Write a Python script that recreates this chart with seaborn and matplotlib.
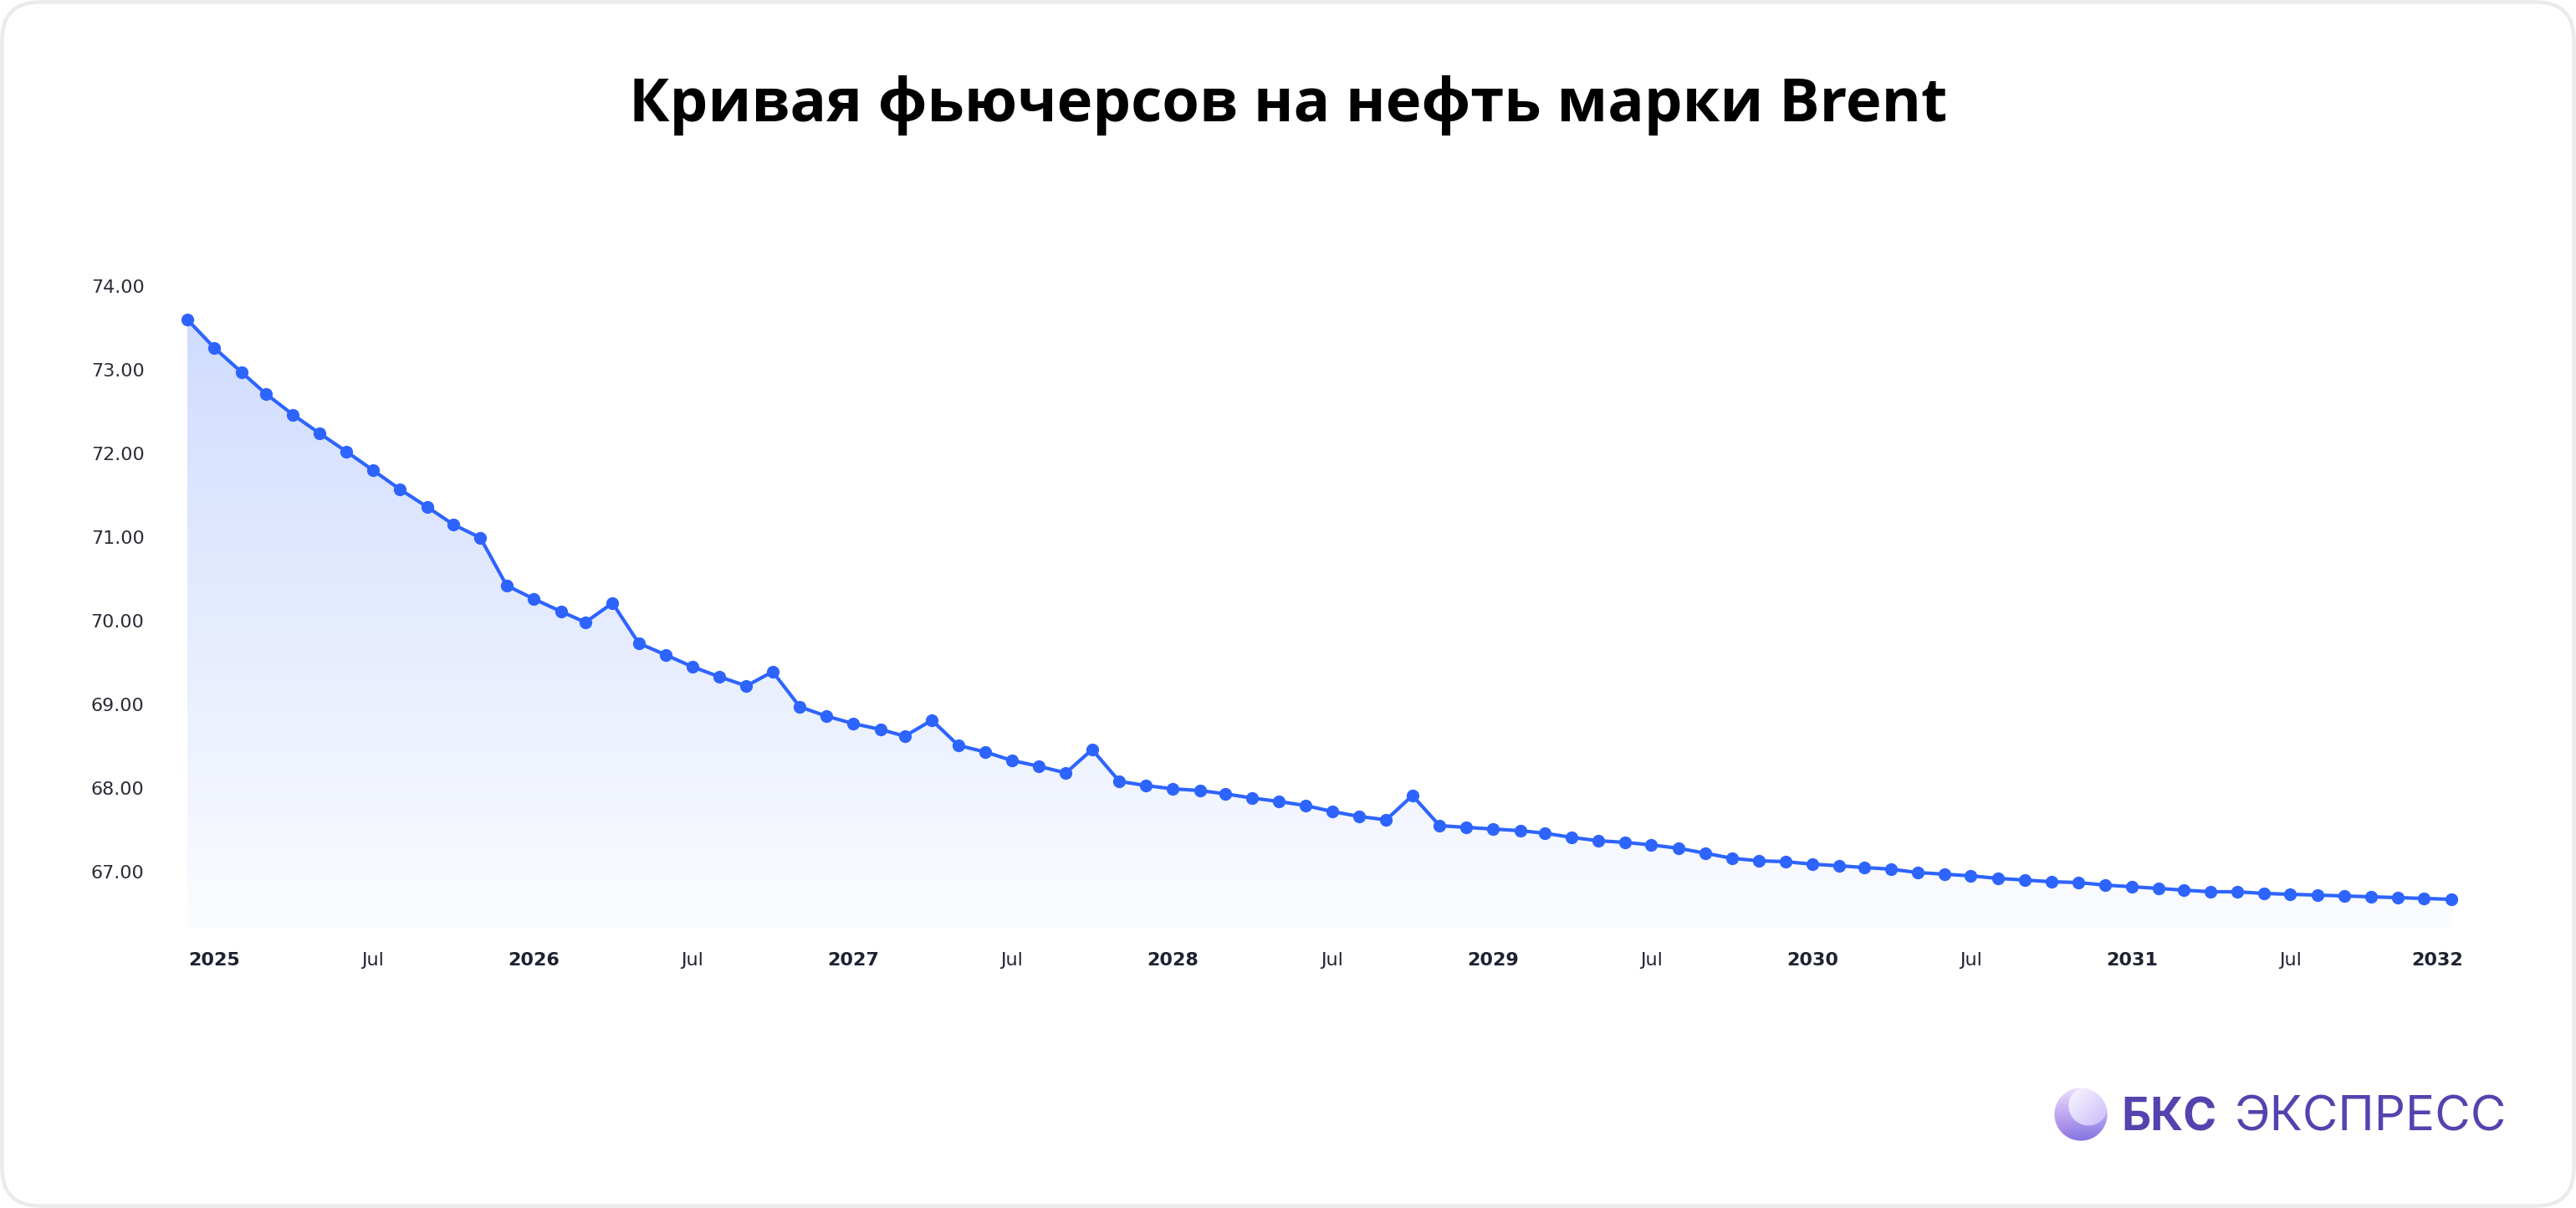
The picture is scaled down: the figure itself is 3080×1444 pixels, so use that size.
import numpy as np
import pandas as pd
import matplotlib as mpl
import matplotlib.pyplot as plt
import matplotlib.dates as mdates
from matplotlib.patches import FancyBboxPatch
import seaborn as sns

# данные: месячные контракты Brent, дек 2024 - янв 2032
months = pd.date_range("2024-12-01", periods=86, freq="MS")
prices = [
    73.60, 73.26, 72.97, 72.71, 72.46, 72.24, 72.02, 71.80, 71.57, 71.36,
    71.15, 70.99, 70.42, 70.26, 70.11, 69.98, 70.21, 69.73, 69.59, 69.45,
    69.33, 69.22, 69.39, 68.97, 68.86, 68.77, 68.70, 68.62, 68.81, 68.51,
    68.43, 68.33, 68.26, 68.18, 68.46, 68.08, 68.03, 67.99, 67.97, 67.93,
    67.88, 67.84, 67.79, 67.72, 67.66, 67.62, 67.91, 67.55, 67.53, 67.51,
    67.49, 67.46, 67.41, 67.37, 67.35, 67.32, 67.28, 67.22, 67.16, 67.13,
    67.12, 67.09, 67.07, 67.05, 67.03, 66.99, 66.97, 66.95, 66.92, 66.90,
    66.88, 66.87, 66.84, 66.82, 66.80, 66.78, 66.76, 66.76, 66.74, 66.73,
    66.72, 66.71, 66.70, 66.69, 66.68, 66.67,
]
y_ticks = [67, 68, 69, 70, 71, 72, 73, 74]
x_ticks = pd.date_range("2025-01-01", "2032-01-01", freq="6MS")
x_labels = [str(d.year) if d.month == 1 else "Jul" for d in x_ticks]

title = "Кривая фьючерсов на нефть марки Brent"

df = pd.DataFrame({"date": months, "price": prices})

sns.set_style("white")
mpl.rcParams["font.family"] = ["DejaVu Sans"]

blue = "#2E64FE"
ymin, ymax = 66.32, 74.05

fig = plt.figure(figsize=(30.8, 14.44), dpi=100)
fig.patch.set_facecolor("white")

# рамка карточки
fig.patches.append(FancyBboxPatch((2.5, 2.5), 3075, 1439,
                                  boxstyle="round,pad=0,rounding_size=45",
                                  transform=None, facecolor="none",
                                  edgecolor="#EBEBEB", linewidth=3.2))

ax = fig.add_axes([0.07266, 0.2313, 0.87894, 0.5355])

sns.lineplot(data=df, x="date", y="price", ax=ax, color=blue, linewidth=3.0,
             marker="o", markersize=11, markeredgewidth=0, zorder=3, clip_on=False)

# градиентная заливка под кривой
poly = ax.fill_between(df["date"], df["price"], ymin, color="none")
grad = np.zeros((256, 1, 4))
grad[:, 0, :3] = mpl.colors.to_rgb(blue)
grad[:, 0, 3] = np.linspace(0.02, 0.24, 256)
x0, x1 = mdates.date2num(months[0]), mdates.date2num(months[-1])
img = ax.imshow(grad, extent=[x0, x1, ymin, ymax], aspect="auto",
                origin="lower", zorder=1)
img.set_clip_path(poly.get_paths()[0], transform=ax.transData)

ax.set_xlim(x0, x1)
ax.set_ylim(ymin, ymax)
ax.set_yticks(y_ticks)
ax.set_yticklabels([f"{v:.2f}" for v in y_ticks])
ax.set_xticks(x_ticks)
# последняя подпись (2032) сдвинута внутрь, как в оригинале - рисуем отдельно
ax.set_xticklabels(x_labels[:-1] + [""])
for lbl, d in zip(ax.get_xticklabels(), x_ticks):
    if d.month == 1:
        lbl.set_fontweight("bold")
ax.annotate(x_labels[-1], xy=(mdates.date2num(x_ticks[-1]), 0),
            xycoords=("data", "axes fraction"), xytext=(-12, -20),
            textcoords="offset points", ha="center", va="top",
            fontsize=16, fontweight="bold", color="#1E2230",
            annotation_clip=False)
ax.tick_params(axis="y", length=0, pad=37, labelsize=16, labelcolor="#2A2C38")
ax.tick_params(axis="x", length=0, pad=20, labelsize=16, labelcolor="#1E2230")
ax.set_xlabel("")
ax.set_ylabel("")
sns.despine(ax=ax, left=True, bottom=True)
ax.grid(False)

fig.text(0.5, 0.9128, title, ha="center", va="center", fontsize=52,
         fontweight="bold", family=["Open Sans", "DejaVu Sans"], color="black")

# логотип
lax = fig.add_axes([0.7974, 0.0554, 0.02078, 0.04432])
n = 200
yy, xx = np.mgrid[1:-1:n * 1j, -1:1:n * 1j]
r = np.hypot(xx, yy)
t = (1 - yy) / 2
base = np.stack([0.90 - 0.38 * t, 0.87 - 0.42 * t, 1.0 - 0.12 * t], axis=-1)
base[..., 0] += 0.06 * np.clip(-xx, 0, 1)
inner = np.hypot(xx - 0.28, yy - 0.32) < 0.74
s = np.clip((xx - yy + 1.2) / 2.4, 0, 1)
hl = np.stack([0.97 - 0.17 * s, 0.95 - 0.20 * s, 1.0 - 0.02 * s], axis=-1)
rgb = np.where(inner[..., None], hl, base)
alpha = np.clip((1 - r) * 60, 0, 1)
logo = np.dstack([np.clip(rgb, 0, 1), alpha])
lax.imshow(logo, extent=[-1, 1, -1, 1])
lax.set_axis_off()

fig.text(0.8234, 0.0639, "БКС", ha="left", va="baseline", fontsize=39,
         fontweight="bold", family=["Inter", "DejaVu Sans"], color="#5443AE")
fig.text(0.8675, 0.0639, "ЭКСПРЕСС", ha="left", va="baseline", fontsize=42,
         family=["Inter", "DejaVu Sans"], color="#5443AE")

fig.savefig("out.png", dpi=100)
